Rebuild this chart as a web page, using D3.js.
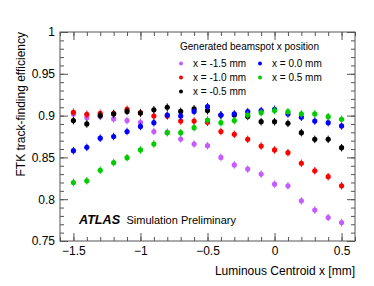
<!DOCTYPE html>
<html>
<head>
<meta charset="utf-8">
<script src="https://cdn.jsdelivr.net/npm/d3@7"></script>
<style>
  body { margin: 0; background: white; }
  text { font-family: 'Liberation Sans', Arial, sans-serif; }
</style>
</head>
<body>
<div class="chart"></div>
<script>
const width = 374;
const height = 286;

// luminous centroid x positions [mm]
const centroidX = [-1.5, -1.4, -1.3, -1.2, -1.1, -1.0, -0.9, -0.8, -0.7, -0.6, -0.5,
    -0.4, -0.3, -0.2, -0.1, 0.0, 0.1, 0.2, 0.3, 0.4, 0.5];

const effMinus15 = [0.902, 0.8975, 0.899, 0.896, 0.894, 0.892, 0.881, 0.880, 0.872, 0.866, 0.864,
    0.850, 0.841, 0.836, 0.830, 0.818, 0.816, 0.798, 0.787, 0.778, 0.772];
const effMinus10 = [0.904, 0.9015, 0.9027, 0.9027, 0.9075, 0.9035, 0.8995, 0.8995, 0.8935, 0.8935, 0.892,
    0.881, 0.8776, 0.8716, 0.8636, 0.8589, 0.8556, 0.843, 0.834, 0.827, 0.816];
const effMinus05 = [0.894, 0.890, 0.900, 0.902, 0.905, 0.903, 0.907, 0.910, 0.905, 0.908, 0.906,
    0.9007, 0.9007, 0.899, 0.8927, 0.8927, 0.8907, 0.8796, 0.8716, 0.8716, 0.8616];
const effZero = [0.858, 0.862, 0.873, 0.875, 0.881, 0.887, 0.8915, 0.9007, 0.8995, 0.905, 0.9107,
    0.9007, 0.902, 0.9047, 0.906, 0.9075, 0.902, 0.898, 0.8935, 0.8915, 0.8876];
const effPlus05 = [0.820, 0.822, 0.8346, 0.8437, 0.8497, 0.8589, 0.866, 0.8796, 0.8796, 0.8856, 0.8947,
    0.8915, 0.894, 0.9007, 0.9035, 0.906, 0.9047, 0.902, 0.902, 0.8987, 0.8956];

const effError = 0.0045;

const seriesLabels = ['x = -1.5 mm', 'x = -1.0 mm', 'x = -0.5 mm', 'x = 0.0 mm', 'x = 0.5 mm'];
const seriesColors = ['#c45cff', '#ff0000', '#000000', '#0000ff', '#00cc00'];
const seriesValues = [effMinus15, effMinus10, effMinus05, effZero, effPlus05];

const xMajor = [-1.5, -1, -0.5, 0, 0.5];
const yMajor = [0.75, 0.8, 0.85, 0.9, 0.95, 1];

const plot = { left: 60, right: 355, top: 32, bottom: 241 };
const frameColor = '#555';

const svg = d3
    .select('.chart')
    .append('svg')
    .attr('width', width)
    .attr('height', height)
    .style('background-color', 'white');

const x = d3.scaleLinear().domain([-1.6, 0.6]).range([plot.left, plot.right]);
const y = d3.scaleLinear().domain([0.75, 1]).range([plot.bottom, plot.top]);

const fmtX = (d) => (d === 0 ? '0' : d3.format('~g')(d));
const fmtY = (d) => (d === 1 ? '1' : d3.format('~g')(d));

// axes, ticks pointing inwards on all four sides
function styleAxis(g) {
    g.select('.domain').remove();
    g.selectAll('line').attr('stroke', frameColor);
    g.selectAll('text')
        .attr('font-size', '12px')
        .attr('fill', '#000')
        .style('font-family', "'Liberation Sans', Arial, sans-serif");
}

const minorX = x.ticks(22);
const minorY = y.ticks(25);

svg.append('g')
    .attr('transform', `translate(0,${plot.bottom})`)
    .call(d3.axisBottom(x).tickValues(xMajor).tickSize(-8).tickPadding(5).tickFormat(fmtX))
    .call(styleAxis);
svg.append('g')
    .attr('transform', `translate(0,${plot.bottom})`)
    .call(d3.axisBottom(x).tickValues(minorX).tickSize(-4).tickFormat(''))
    .call(styleAxis);
svg.append('g')
    .attr('transform', `translate(0,${plot.top})`)
    .call(d3.axisTop(x).tickValues(xMajor).tickSize(-8).tickFormat(''))
    .call(styleAxis);
svg.append('g')
    .attr('transform', `translate(0,${plot.top})`)
    .call(d3.axisTop(x).tickValues(minorX).tickSize(-4).tickFormat(''))
    .call(styleAxis);

svg.append('g')
    .attr('transform', `translate(${plot.left},0)`)
    .call(d3.axisLeft(y).tickValues(yMajor).tickSize(-8).tickPadding(5).tickFormat(fmtY))
    .call(styleAxis);
svg.append('g')
    .attr('transform', `translate(${plot.left},0)`)
    .call(d3.axisLeft(y).tickValues(minorY).tickSize(-4).tickFormat(''))
    .call(styleAxis);
svg.append('g')
    .attr('transform', `translate(${plot.right},0)`)
    .call(d3.axisRight(y).tickValues(yMajor).tickSize(-8).tickFormat(''))
    .call(styleAxis);
svg.append('g')
    .attr('transform', `translate(${plot.right},0)`)
    .call(d3.axisRight(y).tickValues(minorY).tickSize(-4).tickFormat(''))
    .call(styleAxis);

svg.append('rect')
    .attr('x', plot.left)
    .attr('y', plot.top)
    .attr('width', plot.right - plot.left)
    .attr('height', plot.bottom - plot.top)
    .attr('fill', 'none')
    .attr('stroke', frameColor)
    .attr('stroke-width', 1);

// axis titles
svg.append('text')
    .attr('x', plot.right)
    .attr('y', 275)
    .attr('text-anchor', 'end')
    .attr('font-size', '12px')
    .text('Luminous Centroid x [mm]');

svg.append('text')
    .attr('transform', `translate(25,${plot.top}) rotate(-90)`)
    .attr('text-anchor', 'end')
    .attr('font-size', '12px')
    .text('FTK track-finding efficiency');

// data points with error bars
seriesValues.forEach((vals, i) => {
    const pts = centroidX.map((cx, j) => ({ x: cx, v: vals[j] }));
    const g = svg.append('g').attr('class', 'series-' + i);
    g.selectAll('line')
        .data(pts)
        .enter()
        .append('line')
        .attr('x1', (d) => x(d.x))
        .attr('x2', (d) => x(d.x))
        .attr('y1', (d) => y(d.v - effError))
        .attr('y2', (d) => y(d.v + effError))
        .attr('stroke', seriesColors[i])
        .attr('stroke-width', 1);
    g.selectAll('circle')
        .data(pts)
        .enter()
        .append('circle')
        .attr('cx', (d) => x(d.x))
        .attr('cy', (d) => y(d.v))
        .attr('r', 2.6)
        .attr('fill', seriesColors[i]);
});

// legend
const legend = svg.append('g');
legend.append('text')
    .attr('x', 180)
    .attr('y', 50)
    .attr('font-size', '10px')
    .text('Generated beamspot x position');

const legendPos = [
    [181, 63.5], [181, 77.5], [181, 91.5],
    [260, 63.5], [260, 77.5],
];
seriesLabels.forEach((label, i) => {
    legend.append('circle')
        .attr('cx', legendPos[i][0])
        .attr('cy', legendPos[i][1])
        .attr('r', 2)
        .attr('fill', seriesColors[i]);
    legend.append('text')
        .attr('x', legendPos[i][0] + 12)
        .attr('y', legendPos[i][1] + 3.6)
        .attr('font-size', '10px')
        .text(label);
});

// ATLAS label
svg.append('text')
    .attr('x', 79)
    .attr('y', 223.5)
    .attr('font-size', '12.6px')
    .attr('font-weight', 'bold')
    .attr('font-style', 'italic')
    .text('ATLAS');
svg.append('text')
    .attr('x', 126.5)
    .attr('y', 223.5)
    .attr('font-size', '11px')
    .text('Simulation Preliminary');
</script>
</body>
</html>
